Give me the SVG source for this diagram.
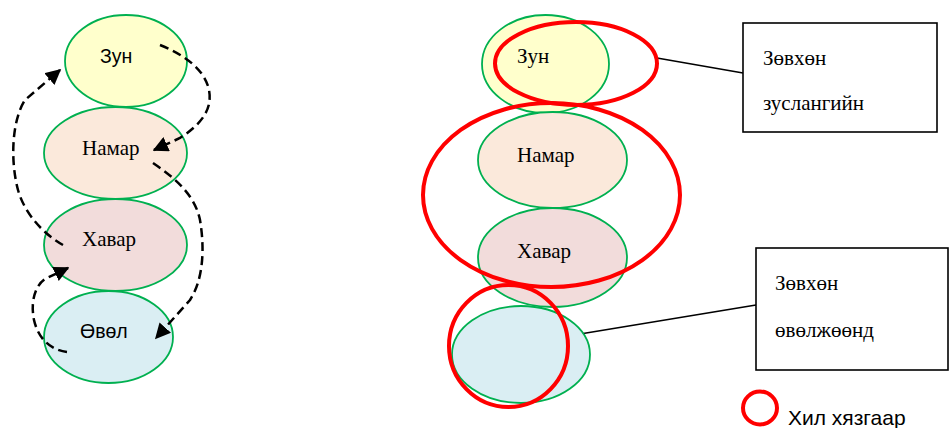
<svg xmlns="http://www.w3.org/2000/svg" width="950" height="428" viewBox="0 0 950 428">
<style>
.n{stroke:#00B050;stroke-width:1.8}
.s{font-family:"Liberation Sans",Arial,sans-serif;font-size:19.5px;fill:#000}
.t{font-family:"Liberation Serif","Times New Roman",serif;font-size:21px;fill:#000}
.d{fill:none;stroke:#000;stroke-width:2.5;stroke-dasharray:9 5}
.r{fill:none;stroke:#FF0000;stroke-width:4}
.l{stroke:#000;stroke-width:1.6;fill:none}
.b{fill:#fff;stroke:#000;stroke-width:1.6}
</style>
<defs>
<marker id="ah" viewBox="0 0 10 10" refX="9" refY="5" markerWidth="6.2" markerHeight="6.2" orient="auto" markerUnits="strokeWidth">
<path d="M0,0 L10,5 L0,10 z" fill="#000"/>
</marker>
</defs>
<rect width="950" height="428" fill="#fff"/>
<g id="l-zun"><ellipse class="n" cx="126" cy="61" rx="61" ry="46" fill="#FFFFCC"/><text class="s" x="100" y="63">Зун</text></g>
<g id="l-namar"><ellipse class="n" cx="115.5" cy="153" rx="71.5" ry="46" fill="#FBE9DB"/><text class="t" x="82" y="155">Намар</text></g>
<g id="l-havar"><ellipse class="n" cx="115.5" cy="245" rx="71.5" ry="46" fill="#F2DCDB"/><text class="t" x="82" y="246">Хавар</text></g>
<g id="l-uvul"><ellipse class="n" cx="108.5" cy="337" rx="64.5" ry="46" fill="#DAEEF3"/><text class="s" x="80" y="338">Өвөл</text></g>
<g id="connectors">
<path class="d" marker-end="url(#ah)" d="M160,45 C185,55 205,70 209,90 C213,110 200,125 180,138 L154,150"/>
<path class="d" marker-end="url(#ah)" d="M153,163 C175,178 195,195 200,220 C205,250 203,280 190,300 L156,338"/>
<path class="d" marker-end="url(#ah)" d="M63,245 C45,235 25,215 18,190 C10,160 12,120 25,100 L60,70"/>
<path class="d" marker-end="url(#ah)" d="M67,352 C50,350 38,338 34,320 C30,300 36,285 45,279 L68,268"/>
<path class="l" d="M657,58 L743,73"/>
<path class="l" d="M568,336 L756,305"/>
</g>
<g id="r-zun"><ellipse class="n" cx="545.5" cy="64" rx="63.5" ry="49" fill="#FFFFCC"/><text class="t" x="517" y="63">Зун</text></g>
<g id="r-namar"><ellipse class="n" cx="552.5" cy="160" rx="74.5" ry="48" fill="#FBE9DB"/><text class="t" x="517" y="162">Намар</text></g>
<g id="r-havar"><ellipse class="n" cx="552.5" cy="257.5" rx="74.5" ry="49.5" fill="#F2DCDB"/><text class="t" x="517" y="258">Хавар</text></g>
<g id="r-uvul"><ellipse class="n" cx="521" cy="354.5" rx="69" ry="48.5" fill="#DAEEF3"/></g>
<g id="r-bounds">
<ellipse class="r" cx="576" cy="63.5" rx="81" ry="41.5"/>
<ellipse class="r" cx="551.5" cy="195" rx="128.5" ry="92"/>
<ellipse class="r" cx="508.5" cy="346" rx="59.5" ry="61"/>
</g>
<g id="box-summer"><rect class="b" x="743" y="23" width="194" height="109"/><text class="t" x="763" y="65">Зөвхөн</text><text class="t" x="763" y="110">зуслангийн</text></g>
<g id="box-winter"><rect class="b" x="756" y="248" width="192" height="122"/><text class="t" x="775" y="290">Зөвхөн</text><text class="t" x="775" y="337">өвөлжөөнд</text></g>
<g id="legend"><ellipse class="r" cx="760" cy="408" rx="17" ry="16.5"/><text class="s" x="788" y="425" style="font-size:21px">Хил хязгаар</text></g>
</svg>
